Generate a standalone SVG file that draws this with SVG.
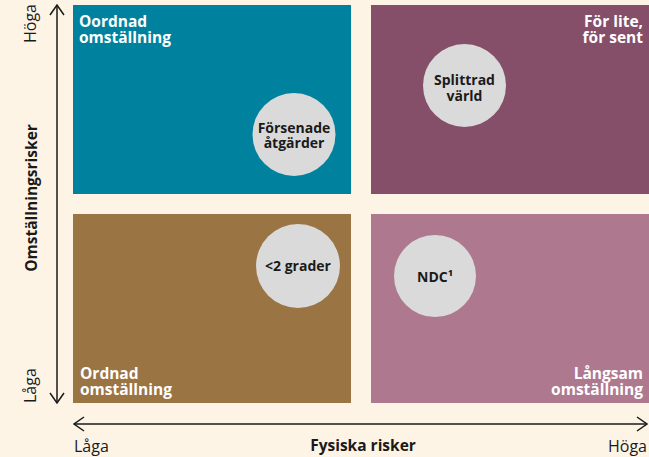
<svg xmlns="http://www.w3.org/2000/svg" width="649" height="457" viewBox="0 0 649 457">
<defs>
<style>
.q{font-family:"Open Sans","Liberation Sans",sans-serif;font-weight:700;font-size:15.5px;fill:#ffffff}
.c{font-family:"Open Sans","Liberation Sans",sans-serif;font-weight:700;font-size:14px;fill:#1a1a1a;text-anchor:middle}
.ax{font-family:"Open Sans","Liberation Sans",sans-serif;font-size:16px;fill:#1a1a1a}
.axb{font-family:"Open Sans","Liberation Sans",sans-serif;font-size:15.5px;font-weight:700;fill:#1a1a1a;text-anchor:middle}
.bub{fill:#dadada}
.line{stroke:#1a1a1a;stroke-width:1.5;fill:none}
</style>
<marker id="arr" viewBox="0 0 12 16" refX="11" refY="8" markerWidth="12" markerHeight="16" markerUnits="userSpaceOnUse" orient="auto-start-reverse">
<path d="M1,1 L11,8 L1,15" fill="none" stroke="#1a1a1a" stroke-width="1.5"/>
</marker>
</defs>
<rect width="649" height="457" fill="#fdf4e6"/>
<g id="q-tl"><rect x="73" y="5" width="278" height="189" fill="#00829e"/>
<text class="q" x="79" y="27">Oordnad</text><text class="q" x="79" y="43">omställning</text></g>
<g id="q-tr"><rect x="371" y="5" width="278" height="189" fill="#854e69"/>
<text class="q" x="643" y="27" text-anchor="end">För lite,</text><text class="q" x="643" y="43" text-anchor="end">för sent</text></g>
<g id="q-bl"><rect x="73" y="214" width="278" height="189" fill="#9a7443"/>
<text class="q" x="80" y="379">Ordnad</text><text class="q" x="80" y="395">omställning</text></g>
<g id="q-br"><rect x="371" y="214" width="278" height="189" fill="#ae788f"/>
<text class="q" x="643" y="379" text-anchor="end">Långsam</text><text class="q" x="643" y="395" text-anchor="end">omställning</text></g>
<g id="n-forsenade"><circle class="bub" cx="294" cy="134.5" r="41.5"/>
<text class="c" x="294" y="133">Försenade</text><text class="c" x="294" y="148">åtgärder</text></g>
<g id="n-splittrad"><circle class="bub" cx="464.5" cy="85.5" r="41.5"/>
<text class="c" x="464.5" y="85">Splittrad</text><text class="c" x="464.5" y="101">värld</text></g>
<g id="n-2grader"><circle class="bub" cx="298" cy="266" r="42"/>
<text class="c" x="298" y="271">&lt;2 grader</text></g>
<g id="n-ndc"><circle class="bub" cx="435" cy="276" r="41"/>
<text class="c" x="435" y="282">NDC¹</text></g>
<g id="connectors">
<line class="line" x1="57" y1="5" x2="57" y2="403" marker-start="url(#arr)" marker-end="url(#arr)"/>
<line class="line" x1="74" y1="424" x2="647" y2="424" marker-start="url(#arr)" marker-end="url(#arr)"/>
</g>
<g id="axis-labels">
<text class="ax" transform="translate(36,43) rotate(-90)">Höga</text>
<text class="ax" transform="translate(36,403) rotate(-90)">Låga</text>
<text class="axb" transform="translate(37,198) rotate(-90)">Omställningsrisker</text>
<text class="ax" x="74" y="452">Låga</text>
<text class="ax" x="647" y="452" text-anchor="end">Höga</text>
<text class="axb" x="363" y="451">Fysiska risker</text>
</g>
</svg>
